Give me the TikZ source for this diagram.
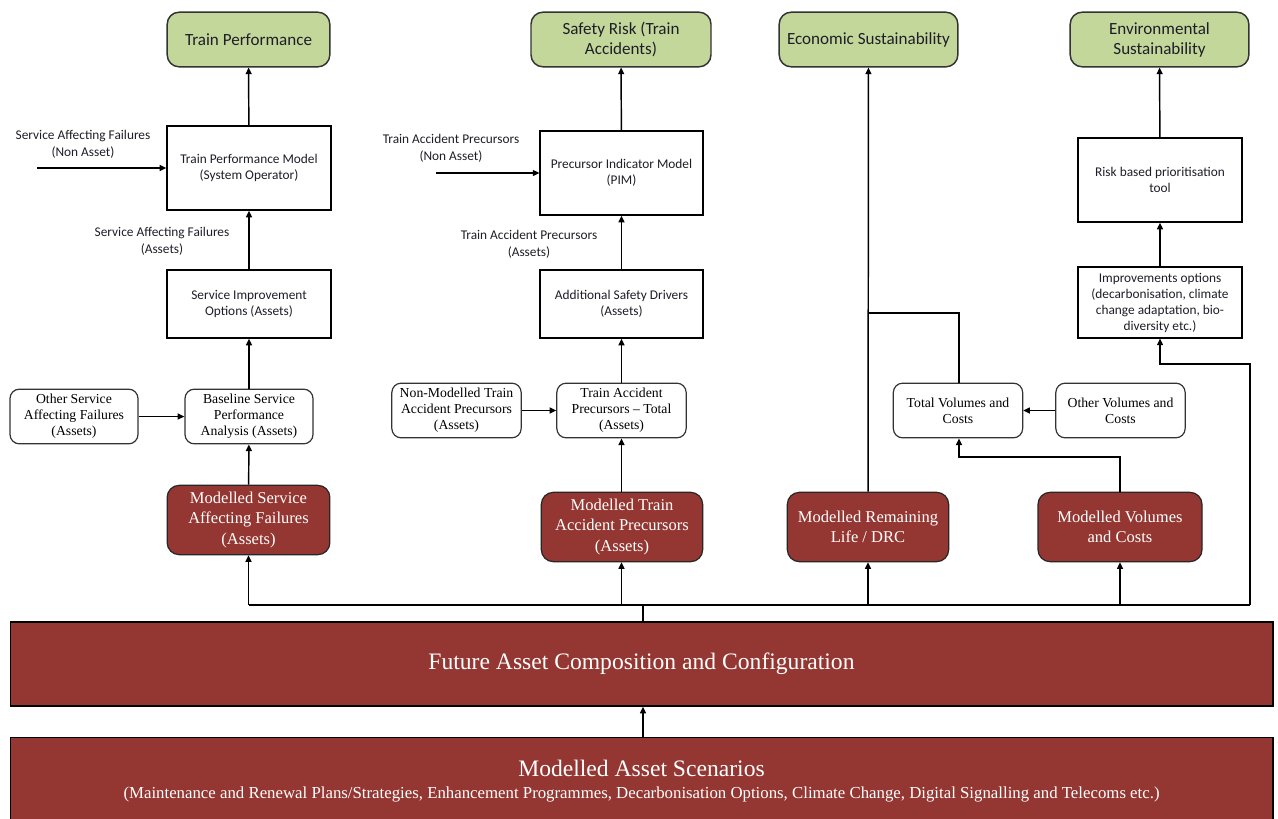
\documentclass[tikz,border=0pt]{standalone}
\usepackage{fontspec}
\setmainfont{Liberation Serif}
\newfontfamily\calfont{Carlito}
\usetikzlibrary{arrows.meta,positioning}
\definecolor{maroon}{RGB}{148,55,50}
\definecolor{sage}{RGB}{196,215,155}
\definecolor{txt}{RGB}{30,30,40}
\begin{document}
\begin{tikzpicture}[x=0.75pt,y=-0.75pt,
  every node/.style={inner sep=1pt,align=center},
  conn/.style={line width=1.1pt,draw=black},
  arr/.style={conn,-{Triangle[length=5pt,width=4.5pt]}},
  goal/.style={draw=black!80,line width=1.1pt,fill=sage,rounded corners=9pt,font=\calfont\fontsize{12.8}{15}\selectfont,text=txt},
  model/.style={draw=black,line width=1.1pt,fill=white,font=\calfont\fontsize{10}{12}\selectfont,text=txt},
  rbox/.style={draw=black!80,line width=0.9pt,fill=white,rounded corners=7pt,font=\fontsize{10.3}{12}\selectfont},
  mbox/.style={draw=black!85,line width=0.9pt,fill=maroon,rounded corners=9pt,font=\fontsize{12.4}{15.5}\selectfont,text=white},
  band/.style={draw=black,line width=1pt,fill=maroon,text=white},
  lbl/.style={font=\calfont\fontsize{10}{12.5}\selectfont,text=txt}
]
\useasboundingbox (0,0) rectangle (1278,818);
% goals
\node[goal,minimum width=122pt,minimum height=41pt] (tp) at (248.5,39.5) {Train Performance};
\node[goal,minimum width=135pt,minimum height=41pt] (sr) at (621,39.5) {Safety Risk (Train\\Accidents)};
\node[goal,minimum width=134pt,minimum height=41pt] (es) at (868.5,39.5) {Economic Sustainability};
\node[goal,minimum width=134pt,minimum height=41pt] (ens) at (1159.5,39.5) {Environmental\\Sustainability};
% model boxes
\node[model,minimum width=123pt,minimum height=63pt] (tpm) at (249,168) {Train Performance Model\\(System Operator)};
\node[model,minimum width=123pt,minimum height=51pt] (sio) at (249,304) {Service Improvement\\Options (Assets)};
\node[model,minimum width=122pt,minimum height=63pt] (pim) at (621.5,173) {Precursor Indicator Model\\(PIM)};
\node[model,minimum width=122pt,minimum height=51pt] (asd) at (621.5,304) {Additional Safety Drivers\\(Assets)};
\node[model,minimum width=123pt,minimum height=63pt] (rbt) at (1160,180) {Risk based prioritisation\\tool};
\node[model,minimum width=123pt,minimum height=53pt] (imp) at (1160,302.5) {Improvements options\\(decarbonisation, climate\\change adaptation, bio-\\diversity etc.)};
% rounded white boxes
\node[rbox,minimum width=96pt,minimum height=41pt] (osaf) at (74,416.5) {Other Service\\Affecting Failures\\(Assets)};
\node[rbox,minimum width=96pt,minimum height=41pt] (bspa) at (249,416.5) {Baseline Service\\Performance\\Analysis (Assets)};
\node[rbox,minimum width=97pt,minimum height=41pt] (nmtap) at (456.5,410.5) {Non-Modelled Train\\Accident Precursors\\(Assets)};
\node[rbox,minimum width=97pt,minimum height=41pt] (tapt) at (621.5,410.5) {Train Accident\\Precursors -- Total\\(Assets)};
\node[rbox,minimum width=97pt,minimum height=41pt] (tvc) at (958,410.5) {Total Volumes and\\Costs};
\node[rbox,minimum width=97pt,minimum height=41pt] (ovc) at (1120.5,410.5) {Other Volumes and\\Costs};
% maroon boxes
\node[mbox,minimum width=122pt,minimum height=52pt] (msaf) at (248.5,520) {Modelled Service\\Affecting Failures\\(Assets)};
\node[mbox,minimum width=121pt,minimum height=52pt] (mtap) at (622,527) {Modelled Train\\Accident Precursors\\(Assets)};
\node[mbox,minimum width=121pt,minimum height=52pt] (mrl) at (868,527) {Modelled Remaining\\Life / DRC};
\node[mbox,minimum width=123pt,minimum height=52pt] (mvc) at (1120,527) {Modelled Volumes\\and Costs};
% bands
\node[band,minimum width=947pt,minimum height=63pt,font=\fontsize{17.7}{20}\selectfont] (fac) at (641.5,664) {Future Asset Composition and Configuration};
\node[band,minimum width=947pt,minimum height=64pt,anchor=north] (mas) at (641.5,737) {};
\node[text=white,font=\fontsize{17.7}{20}\selectfont] (mast) at (641.5,768) {Modelled Asset Scenarios};
\node[text=white,font=\fontsize{12.6}{14}\selectfont] (mass) at (641.5,794) {(Maintenance and Renewal Plans/Strategies, Enhancement Programmes, Decarbonisation Options, Climate Change, Digital Signalling and Telecoms etc.)};
% labels
\node[lbl] (l1) at (83,144) {Service Affecting Failures\\(Non Asset)};
\node[lbl] (l2) at (162,241) {Service Affecting Failures\\(Assets)};
\node[lbl] (l3) at (451,148) {Train Accident Precursors\\(Non Asset)};
\node[lbl] (l4) at (529,244) {Train Accident Precursors\\(Assets)};
% coordinates
\coordinate (in1) at (37,168);
\coordinate (in2) at (436,173);
\coordinate (busL) at (248.5,605);
\coordinate (busC) at (643,605);
\coordinate (busR) at (1250,605);
\coordinate (ej) at (868,313);
\coordinate (ej2) at (959,313);
\coordinate (vj) at (959,457);
\coordinate (rt) at (1250,364);
% connectors
\draw[arr] (tpm) -- (tp);
\draw[arr] (sio) -- (tpm);
\draw[arr] (bspa) -- (sio);
\draw[arr] (osaf) -- (bspa);
\draw[arr] (msaf) -- (bspa);
\draw[arr] (in1) -- (tpm.west |- in1);
\draw[arr] (pim) -- (sr);
\draw[arr] (asd) -- (pim);
\draw[arr] (tapt) -- (asd);
\draw[arr] (nmtap) -- (tapt);
\draw[arr] (mtap.north -| tapt) -- (tapt);
\draw[arr] (in2) -- (pim.west |- in2);
\draw[arr] (mrl) -- (es);
\draw[conn] (tvc.north -| ej2) -- (ej2) -- (ej);
\draw[arr] (ovc) -- (tvc);
\draw[arr] (mvc.north) |- (vj) -- (vj |- tvc.south);
\draw[arr] (imp) -- (rbt);
\draw[arr] (rbt) -- (ens);
\draw[conn] (busL) -- (busR);
\draw[arr] (busL) -- (msaf);
\draw[arr] (busL -| tapt) -- (mtap.south -| tapt);
\draw[arr] (busL -| mrl) -- (mrl);
\draw[arr] (busL -| mvc) -- (mvc);
\draw[arr] (busR) -- (rt) -| (imp.south);
\draw[conn] (fac.north -| busC) -- (busC);
\draw[arr] (mas.north -| busC) -- (fac.south -| busC);
\end{tikzpicture}
\end{document}
